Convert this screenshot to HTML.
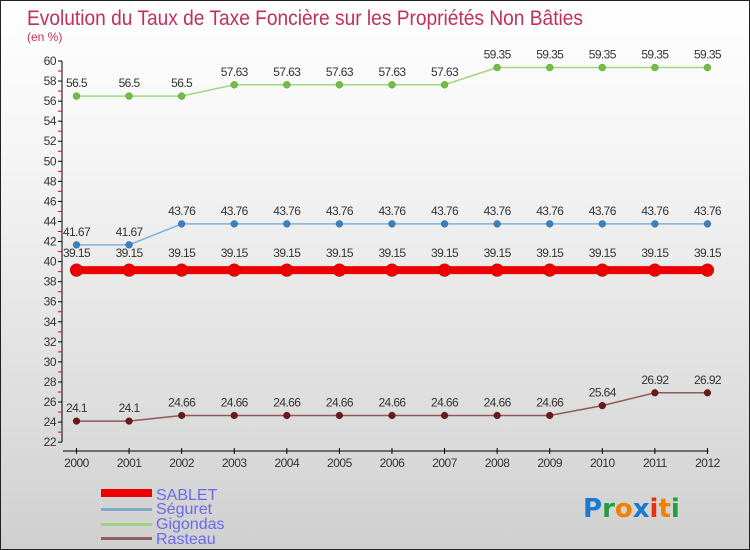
<!DOCTYPE html>
<html><head><meta charset="utf-8"><style>
body{margin:0}
#c{width:750px;height:550px;position:relative;background:linear-gradient(#ffffff,#f4f4f4 30%,#d0d0d0);box-sizing:border-box;border:1px solid #222;overflow:hidden;font-family:"Liberation Sans",sans-serif}
</style></head><body>
<div id="c">
<svg id="s" width="750" height="550" style="position:absolute;left:0;top:0">
<text x="26" y="24" font-size="21" fill="#c0305a" textLength="556" lengthAdjust="spacingAndGlyphs">Evolution du Taux de Taxe Foncière sur les Propriétés Non Bâties</text>
<text x="26" y="40" font-size="12" fill="#c0305a">(en %)</text>
<g id="axes"></g><g id="series"></g>
<g>
<rect x="100" y="488" width="51" height="8" fill="#e00"/>
<text x="155" y="499" font-size="16" fill="#6a6ae8">SABLET</text>
<rect x="100" y="507" width="51" height="3" fill="#80a8c8"/>
<text x="155" y="513" font-size="16" fill="#6a6ae8">Séguret</text>
<rect x="100" y="522" width="51" height="3" fill="#a0d080"/>
<text x="155" y="528" font-size="16" fill="#6a6ae8">Gigondas</text>
<rect x="100" y="536" width="51" height="3" fill="#906060"/>
<text x="155" y="543" font-size="16" fill="#6a6ae8">Rasteau</text>
</g>
<g font-size="26" font-weight="bold" font-family="'DejaVu Sans',sans-serif">
<text x="582" y="516"><tspan fill="#1a7ad0">P</tspan><tspan fill="#20a040">r</tspan><tspan fill="#f08000">o</tspan><tspan fill="#1a7ad0">x</tspan><tspan fill="#e83010">i</tspan><tspan fill="#f08000">t</tspan><tspan fill="#20a040">i</tspan></text>
</g>
</svg>
</div>
<script>
const years=[2000,2001,2002,2003,2004,2005,2006,2007,2008,2009,2010,2011,2012];
const sablet=[39.15,39.15,39.15,39.15,39.15,39.15,39.15,39.15,39.15,39.15,39.15,39.15,39.15];
const seguret=[41.67,41.67,43.76,43.76,43.76,43.76,43.76,43.76,43.76,43.76,43.76,43.76,43.76];
const gigondas=[56.5,56.5,56.5,57.63,57.63,57.63,57.63,57.63,59.35,59.35,59.35,59.35,59.35];
const rasteau=[24.1,24.1,24.66,24.66,24.66,24.66,24.66,24.66,24.66,24.66,25.64,26.92,26.92];
const yTicks=[22,24,26,28,30,32,34,36,38,40,42,44,46,48,50,52,54,56,58,60];
const NS='http://www.w3.org/2000/svg';
const X=i=>75.5+i*52.58;
const Y=v=>60+(60-v)*10.03;
function mk(t,a,p){const e=document.createElementNS(NS,t);for(const k in a)e.setAttribute(k,a[k]);p.appendChild(e);return e;}
const ax=document.getElementById('axes');
const yl=mk('line',{x1:61,y1:Y(60),x2:61,y2:Y(22),stroke:'#000'},ax);


yTicks.forEach(v=>{
  mk('line',{x1:57,x2:61,y1:Y(v),y2:Y(v),stroke:'#000'},ax);
  if(v<60)mk('line',{x1:57,x2:61,y1:Y(v+1),y2:Y(v+1),stroke:'#e00'},ax);
  const t=mk('text',{x:55,y:Y(v)+4,'font-size':12,fill:'#333','text-anchor':'end','letter-spacing':'-0.5'},ax);
  
  
  t.textContent=v;
});
const xl=mk('line',{x1:62,y1:450,x2:X(12)+1,y2:450,stroke:'#000'},ax);


years.forEach((y,i)=>{
  mk('line',{x1:X(i),x2:X(i),y1:447,y2:453,stroke:'#000'},ax);
  const t=mk('text',{x:X(i),y:466,'font-size':12,fill:'#333','text-anchor':'middle','letter-spacing':'-0.5'},ax);
  
  
  t.textContent=y;
});
const sg=document.getElementById('series');
function series(name,data,line,dot,lw,r,labelOff){
  const g=mk('g',{},sg);
  
  
  const pl=mk('polyline',{points:data.map((v,i)=>X(i)+','+Y(v)).join(' '),fill:'none',stroke:line,'stroke-width':lw},g);
  
  
  data.forEach((v,i)=>{
    const c=mk('circle',{cx:X(i),cy:Y(v),r:r,fill:dot,stroke:'rgba(0,0,0,0.3)','stroke-width':0.5},g);
    
    
    const t=mk('text',{x:X(i),y:Y(v)-labelOff,'font-size':12,fill:'#333','text-anchor':'middle','letter-spacing':'-0.6'},g);
    
    
    t.textContent=v;
  });
}
series('gigondas',gigondas,'#a0d880','#70c040',1.5,3.5,9);
series('seguret',seguret,'#80b0d8','#3a80c0',1.5,3.5,9);
series('rasteau',rasteau,'#905858','#6a1818',1.5,3.5,9);
series('sablet',sablet,'#ee0000','#ee0000',8,6.5,13);
</script>
</body></html>
